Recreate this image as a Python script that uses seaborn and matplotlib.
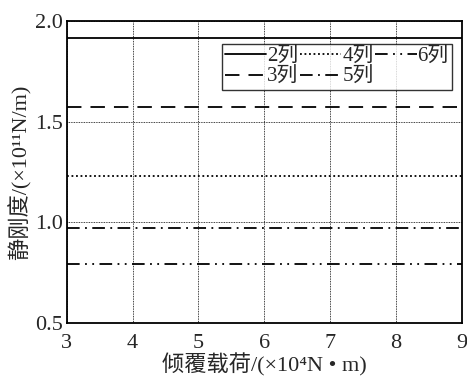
import matplotlib
matplotlib.use('Agg')
import matplotlib.pyplot as plt
import pandas as pd
import seaborn as sns

# data
load = [3, 9]
labels = ['2列', '3列', '4列', '5列', '6列']
stiffness = [1.915, 1.575, 1.23, 0.97, 0.79]
styles = ['-', (0, (8, 5)), (0, (1, 1.5)), (0, (7, 3, 1, 3)), (0, (7, 3, 1, 3, 1, 3))]

sns.set_style('white')
plt.rcParams['font.family'] = ['Liberation Serif', 'Noto Sans CJK SC']

fig = plt.figure(figsize=(4.67, 3.78), dpi=100)
ax = fig.add_axes([0.143, 0.146, 0.846, 0.798])

for name, val, ls in zip(labels, stiffness, styles):
    df = pd.DataFrame({'x': load, 'y': [val] * len(load)})
    sns.lineplot(data=df, x='x', y='y', ax=ax, color='k', linestyle=ls,
                 linewidth=1.3, label=name)

ax.set_xlim(3, 9)
ax.set_ylim(0.5, 2.0)
ax.set_xticks([3, 4, 5, 6, 7, 8, 9])
ax.set_yticks([0.5, 1.0, 1.5, 2.0])
ax.set_yticklabels(['0.5', '1.0', '1.5', '2.0'])
ax.grid(True, color='k', linestyle=(0, (1, 1)), linewidth=0.6)
ax.tick_params(labelsize=16, length=0)
ax.tick_params(axis='x', pad=8)
ax.tick_params(axis='y', pad=3)
for sp in ax.spines.values():
    sp.set_color('k')
    sp.set_linewidth(1.3)

ax.set_xlabel('倾覆载荷/(×10⁴N • m)', fontsize=16, labelpad=0)
ax.set_ylabel('静刚度/(×10¹¹N/m)', fontsize=16, labelpad=2)

leg = ax.legend(ncol=3, loc='upper right', bbox_to_anchor=(0.975, 0.925),
                fontsize=15, frameon=True, fancybox=False, handlelength=2.0,
                handletextpad=0.05, columnspacing=0.05, labelspacing=0.05,
                borderpad=0.15, borderaxespad=0)
leg.get_frame().set_edgecolor('k')
leg.get_frame().set_linewidth(1.0)

fig.savefig('out.png', dpi=100)
